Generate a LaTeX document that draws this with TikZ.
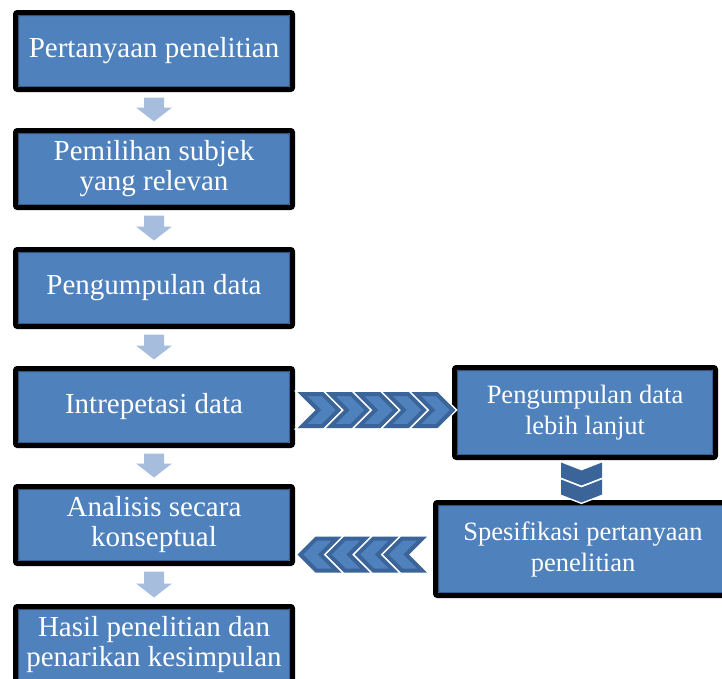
\documentclass[tikz,border=0pt]{standalone}
\usepackage{fontspec}
\setmainfont{Liberation Serif}
\usepackage{tikz}
\usetikzlibrary{calc}
\definecolor{boxblue}{HTML}{4F81BD}
\definecolor{boxedge}{HTML}{385D8A}
\definecolor{chevdark}{HTML}{3B6498}
\definecolor{arrowblue}{HTML}{A7BDDD}

\begin{document}
\begin{tikzpicture}
		[x=1pt,y=1pt,
		stepbox/.style={rectangle,rounded corners=2pt,fill=boxblue,draw=black,line width=5pt,
			text=white,align=center,inner sep=0pt,font=\fontsize{29}{30}\selectfont,
			minimum width=277pt,minimum height=77pt,
			path picture={\draw[boxedge,line width=1pt]
				([shift={(3pt,-3pt)}]path picture bounding box.north west) rectangle
				([shift={(-3pt,3pt)}]path picture bounding box.south east);}},
		sidebox/.style={stepbox,font=\fontsize{26.5}{31}\selectfont},
		chevh/.pic={
			\draw[white,line width=7pt,miter limit=10]
				(4.83,16) -- (25.17,16) -- (41.17,0) -- (25.17,-16) -- (4.83,-16) -- (20.83,0) -- cycle;
			\filldraw[fill=boxblue,draw=chevdark,line width=4pt,miter limit=10]
				(4.83,16) -- (25.17,16) -- (41.17,0) -- (25.17,-16) -- (4.83,-16) -- (20.83,0) -- cycle;},
		chevv/.pic={
			\draw[white,line width=13pt,miter limit=10]
				(7.32,15.5) -- (11.58,15.5) -- (17.63,0) -- (11.58,-15.5) -- (7.32,-15.5) -- (13.37,0) -- cycle;
			\filldraw[fill=boxblue,draw=chevdark,line width=10pt,miter limit=10]
				(7.32,15.5) -- (11.58,15.5) -- (17.63,0) -- (11.58,-15.5) -- (7.32,-15.5) -- (13.37,0) -- cycle;}]
		\useasboundingbox (0,0) rectangle (722,-678);
		
		\node[stepbox] (b1) at (154,-51) {Pertanyaan penelitian};
		\node[stepbox] (b2) at (154,-169) {Pemilihan subjek\\yang relevan};
		\node[stepbox] (b3) at (154,-288) {Pengumpulan data};
		\node[stepbox] (b4) at (154,-407) {Intrepetasi data};
		\node[stepbox] (b5) at (154,-525) {Analisis secara\\konseptual};
		\node[stepbox] (b6) at (154,-645) {Hasil penelitian dan\\penarikan kesimpulan};
		\node[sidebox,minimum width=261pt,minimum height=90pt] (sa) at (585,-412.5) {Pengumpulan data\\lebih lanjut};
		\node[sidebox,minimum width=295pt,minimum height=93pt] (sb) at (583,-549) {Spesifikasi pertanyaan\\penelitian};
		
		% block arrows down the left column
		\foreach \from/\to in
		{b1/b2, b2/b3, b3/b4, b4/b5, b5/b6}
		\fill[arrowblue] let \p1=($(\from.south)+(0,-5.5)$), \p2=($(\to.north)+(0,6.5)$) in
			(\x1-10pt,\y1) -- (\x1+10pt,\y1) -- (\x1+10pt,\y2+14pt) -- (\x1+18pt,\y2+14pt)
			-- (\x1,\y2) -- (\x1-18pt,\y2+14pt) -- (\x1-10pt,\y2+14pt) -- cycle;
		
		% chevrons
		\foreach \i in {0,...,4}
		\pic at ($(b4.east)+(2.5+\i*28.5,-3)$) {chevh};
		\foreach \i in {0,1}
		\pic[rotate=-90] at ($(sa.south)+(-3.5,-2.5-\i*17)$) {chevv};
		\foreach \i in {0,...,3}
		\pic[rotate=180] at ($(sb.west)+(-6-\i*28.5,-5.5)$) {chevh};
		\end{tikzpicture}
\end{document}
